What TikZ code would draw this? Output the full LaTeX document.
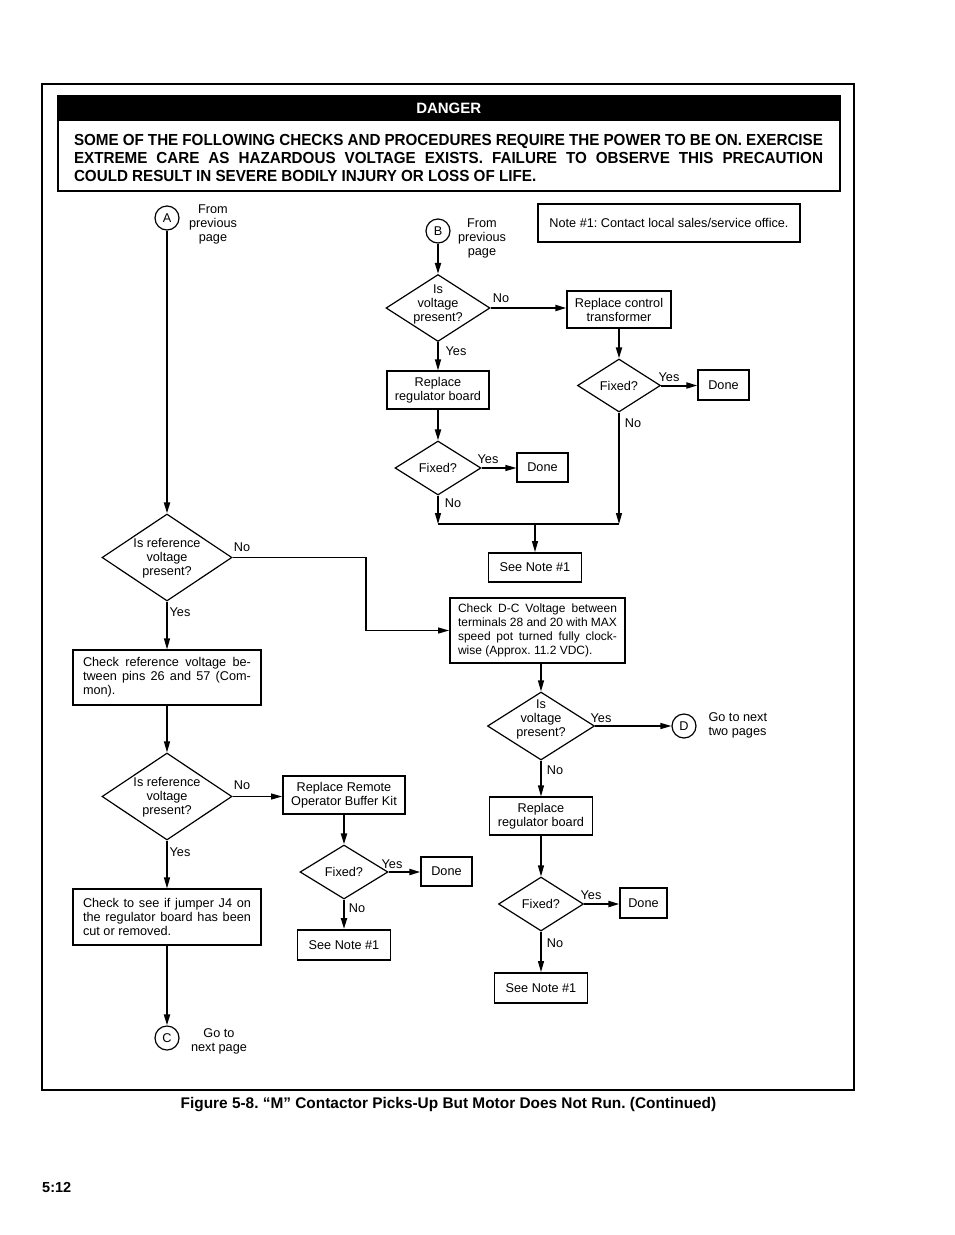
\documentclass[tikz,border=0pt]{standalone}
\usepackage{fontspec}
\setmainfont{Liberation Sans}
\newfontfamily\condfont[FakeStretch=0.95]{Liberation Sans}
\usetikzlibrary{arrows.meta,shapes.geometric,calc}
\frenchspacing

\tikzset{
  every node/.style={font=\fontsize{12.7}{14}\selectfont},
  box/.style={draw, line width=1.2pt, inner sep=0pt, align=center},
  boldbox/.style={box, line width=1.9pt},
  decide/.style={diamond, draw, line width=1.2pt, inner sep=0pt},
  conn/.style={circle, draw, line width=1.2pt, minimum size=24pt, inner sep=0pt},
  flow/.style={line width=1.2pt, -{Triangle[length=11pt,width=6pt]}},
  thkflow/.style={flow, line width=2pt},
  lab/.style={inner sep=0pt}
}

\begin{document}
\begin{tikzpicture}[x=1pt,y=-1pt]
  \useasboundingbox (0,0) rectangle (954,1235);
  \draw[line width=1.2pt] (42,84) rectangle (854,1090); % page frame

  % danger panel
  \node[draw, line width=1.5pt, minimum width=782pt, minimum height=95pt, anchor=north west, inner sep=0pt] (dbox) at (57,95) {};
  \node[fill=black, text=white, font=\fontsize{15}{18}\selectfont\bfseries, minimum width=782pt, minimum height=26pt, anchor=north, inner sep=0pt] (dhead) at (dbox.north) {DANGER};
  \node[text width=749pt, align=justify, inner sep=0pt, font=\condfont\bfseries\fontsize{16}{18}\selectfont] (dtext) at (448.5,158) {SOME OF THE FOLLOWING CHECKS AND PROCEDURES REQUIRE THE POWER TO BE ON. EXERCISE\linebreak EXTREME CARE AS HAZARDOUS VOLTAGE EXISTS. FAILURE TO OBSERVE THIS PRECAUTION\linebreak COULD RESULT IN SEVERE BODILY INJURY OR LOSS OF LIFE.};

  % note
  \node[box, minimum width=262pt, minimum height=38pt] (note) at (669,223) {Note \#1: Contact local sales/service office.};

  % branch B
  \node[conn] (B) at (438,231) {B};
  \node[align=center] (Bfrom) at (482,238) {From\\previous\\page};
  \node[decide, minimum width=104pt, minimum height=67pt] (vB) at (438,308) {};
  \node[align=center] (vBt) at (438,304) {Is\\voltage\\present?};
  \node[box, minimum width=104pt, minimum height=37pt] (ctrl) at (619,309.5) {Replace control\\transformer};
  \node[box, minimum width=102pt, minimum height=38pt] (reg1) at (438,390) {Replace\\regulator board};
  \node[decide, minimum width=86pt, minimum height=54pt] (fx1) at (438,468) {};
  \node (fx1t) at (fx1) {Fixed?};
  \node[box, minimum width=51pt, minimum height=29pt] (done1) at (542.5,467.5) {Done};
  \node[decide, minimum width=83pt, minimum height=53pt] (fx2) at (619,385.5) {};
  \node (fx2t) at (fx2) {Fixed?};
  \node[box, minimum width=51pt, minimum height=30pt] (done2) at (723.5,385) {Done};
  \coordinate (jL) at (438,524);
  \coordinate (jR) at (619,524);
  \coordinate (jM) at (535,524);
  \node[boldbox, minimum width=93pt, minimum height=29pt] (note2) at (535,567.5) {See Note \#1};
  \node[lab] (nB1) at (501,298) {No}; % labels
  \node[lab] (yB1) at (456,351) {Yes};
  \node[lab] (yF1) at (488,459) {Yes};
  \node[lab] (nF1) at (453,503) {No};
  \node[lab] (yF2) at (669,377) {Yes};
  \node[lab] (nF2) at (633,423) {No};

  % branch A
  \node[conn] (A) at (167,218) {A};
  \node[align=center] (Afrom) at (213,224) {From\\previous\\page};
  \node[decide, minimum width=130pt, minimum height=87pt] (ref1) at (167,557.5) {};
  \node[align=center] (ref1t) at (167,558) {Is reference\\voltage\\present?};
  \coordinate (bend) at (366,557.5);
  \node[boldbox, minimum width=175pt, minimum height=65pt, text width=159pt, align=justify, font=\fontsize{12}{14}\selectfont] (chkdc) at (537.5,630.5) {Check D-C Voltage between\linebreak terminals 28 and 20 with MAX\linebreak speed pot turned fully clock-\linebreak wise (Approx. 11.2 VDC).};
  \node[box, minimum width=188pt, minimum height=55pt, text width=168pt, align=justify] (chkref) at (167,677.5) {Check reference voltage be-\linebreak tween pins 26 and 57 (Com-\linebreak mon).};
  \node[decide, minimum width=130pt, minimum height=87pt] (ref2) at (167,796.5) {};
  \node[align=center] (ref2t) at (167,797) {Is reference\\voltage\\present?};
  \node[boldbox, minimum width=122pt, minimum height=38pt] (remote) at (344,795) {Replace Remote\\Operator Buffer Kit};
  \node[decide, minimum width=88pt, minimum height=54pt] (fx3) at (344,872) {};
  \node (fx3t) at (fx3) {Fixed?};
  \node[box, minimum width=51pt, minimum height=29pt] (done3) at (446.5,871.5) {Done};
  \node[boldbox, minimum width=93pt, minimum height=30pt] (note3) at (344,945) {See Note \#1};
  \node[box, minimum width=188pt, minimum height=56pt, text width=168pt, align=justify] (jump) at (167,917) {Check to see if jumper J4 on\linebreak the regulator board has been\linebreak cut or removed.};
  \node[conn] (C) at (167,1038) {C};
  \node[align=center] (Cgo) at (219,1041) {Go to\\next page};
  \node[lab] (nR1) at (242,547) {No}; % labels
  \node[lab] (yR1) at (180,612) {Yes};
  \node[lab] (nR2) at (242,785) {No};
  \node[lab] (yR2) at (180,852) {Yes};
  \node[lab] (yF3) at (392,864) {Yes};
  \node[lab] (nF3) at (357,908) {No};

  % D-C check branch
  \node[decide, minimum width=107pt, minimum height=68pt] (vD) at (541,726) {};
  \node[align=center] (vDt) at (541,719) {Is\\voltage\\present?};
  \node[conn] (D) at (684,726) {D};
  \node[align=left, anchor=west] (Dgo) at (705,725) {Go to next\\two pages};
  \node[box, minimum width=103pt, minimum height=38pt] (reg2) at (541,816) {Replace\\regulator board};
  \node[decide, minimum width=85pt, minimum height=54pt] (fx4) at (541,904) {};
  \node (fx4t) at (fx4) {Fixed?};
  \node[box, minimum width=47pt, minimum height=30pt] (done4) at (643.5,903) {Done};
  \node[boldbox, minimum width=93pt, minimum height=30pt] (note4) at (541,988) {See Note \#1};
  \node[lab] (yD) at (601,718) {Yes}; % labels
  \node[lab] (nD) at (555,770) {No};
  \node[lab] (yF4) at (591,895) {Yes};
  \node[lab] (nF4) at (555,943) {No};

  % connectors
  \draw[thkflow] (B) -- (vB);
  \draw[thkflow] (vB.east) -- (vB.east -| ctrl.west);
  \draw[flow] (vB) -- (reg1);
  \draw[thkflow] (reg1) -- (fx1);
  \draw[flow] (fx1.east) -- (fx1.east -| done1.west);
  \draw[flow] (fx1) -- (jL);
  \draw[thkflow] (ctrl) -- (fx2);
  \draw[thkflow] (fx2.east) -- (fx2.east -| done2.west);
  \draw[flow] (fx2) -- (jR);
  \draw[line width=1.2pt] (jL) -- (jR);
  \draw[flow] (jM) -- (note2);
  \draw[thkflow] (A) -- (ref1);
  \draw[flow] (ref1.east) -- (bend) |- (chkdc.west);
  \draw[flow] (ref1) -- (chkref);
  \draw[flow] (chkref) -- (ref2);
  \draw[flow] (ref2.east) -- (ref2.east -| remote.west);
  \draw[flow] (ref2) -- (jump);
  \draw[thkflow] (jump) -- (C);
  \draw[thkflow] (remote) -- (fx3);
  \draw[thkflow] (fx3.east) -- (fx3.east -| done3.west);
  \draw[thkflow] (fx3) -- (note3);
  \draw[flow] (chkdc.south -| vD.north) -- (vD);
  \draw[flow] (vD) -- (D);
  \draw[flow] (vD) -- (reg2);
  \draw[flow] (reg2) -- (fx4);
  \draw[thkflow] (fx4.east) -- (fx4.east -| done4.west);
  \draw[flow] (fx4) -- (note4);

  % caption and page number
  \node[font=\fontsize{15.4}{18}\selectfont\bfseries] (cap) at (448.5,1105) {Figure 5-8. “M” Contactor Picks-Up But Motor Does Not Run. (Continued)};
  \node[anchor=west, inner sep=0pt, font=\fontsize{14.5}{17}\selectfont\bfseries] (pg) at (42,1187) {5:12};
\end{tikzpicture}
\end{document}
